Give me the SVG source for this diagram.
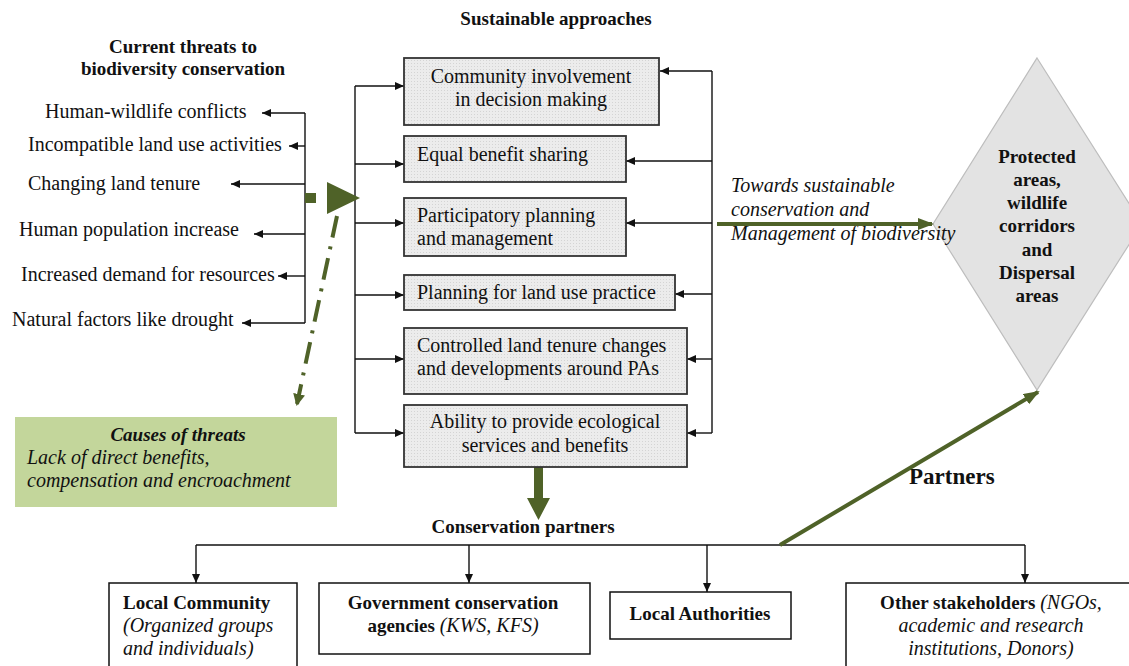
<svg xmlns="http://www.w3.org/2000/svg" width="1129" height="666" viewBox="0 0 1129 666">
<style>
.t{font-family:"Liberation Serif","Times New Roman",serif;font-size:20px;fill:#111}
.b{font-weight:bold;font-size:19px}
.i{font-style:italic}
.c{text-anchor:middle}
.ln{stroke:#111;stroke-width:1.4;fill:none}
.box{fill:url(#dots);stroke:#333;stroke-width:1.8}
.wb{fill:#fff;stroke:#111;stroke-width:1.5}
.g{stroke:#4f6228;fill:none}
.gf{fill:#4f6228}
</style>
<defs>
<pattern id="dots" width="3" height="3" patternUnits="userSpaceOnUse">
<rect width="3" height="3" fill="#ececec"/>
<rect width="1" height="1" fill="#d4d4d4"/>
</pattern>
<marker id="ah" markerUnits="userSpaceOnUse" markerWidth="9" markerHeight="8" refX="9" refY="4" orient="auto">
<path d="M0,0 L9,4 L0,8 z" fill="#111"/>
</marker>
<marker id="gh" markerUnits="userSpaceOnUse" markerWidth="16" markerHeight="12" refX="14" refY="6" orient="auto">
<path d="M0,0 L16,6 L0,12 z" fill="#4f6228"/>
</marker>
<marker id="gh2" markerUnits="userSpaceOnUse" markerWidth="12" markerHeight="12" refX="10" refY="6" orient="auto">
<path d="M0,0 L12,6 L0,12 z" fill="#4f6228"/>
</marker>
</defs>
<rect width="1129" height="666" fill="#fff"/>

<g id="titles">
<text class="t b c" x="556" y="25">Sustainable approaches</text>
<text class="t b c" x="183" y="53">Current threats to</text>
<text class="t b c" x="183" y="75">biodiversity conservation</text>
<text class="t b c" x="523" y="533">Conservation partners</text>
<text class="t b" x="909" y="484" style="font-size:23px">Partners</text>
</g>

<g id="threats">
<text class="t" x="45" y="118">Human-wildlife conflicts</text>
<text class="t" x="28" y="151">Incompatible land use activities</text>
<text class="t" x="28" y="190">Changing land tenure</text>
<text class="t" x="19" y="236">Human population increase</text>
<text class="t" x="21" y="281">Increased demand for resources</text>
<text class="t" x="12" y="326">Natural factors like drought</text>
</g>

<g id="protected">
<polygon points="1037,58 1142,224 1037,390 933,224" fill="#e3e3e3" stroke="#bdbdbd" stroke-width="1.2"/>
<text class="t b c" x="1037" y="163">Protected</text>
<text class="t b c" x="1037" y="186">areas,</text>
<text class="t b c" x="1037" y="209">wildlife</text>
<text class="t b c" x="1037" y="232">corridors</text>
<text class="t b c" x="1037" y="256">and</text>
<text class="t b c" x="1037" y="279">Dispersal</text>
<text class="t b c" x="1037" y="302">areas</text>
</g>

<g id="connectors">
<line class="ln" x1="305" y1="113" x2="305" y2="323"/>
<line class="ln" x1="305" y1="113" x2="262" y2="113" marker-end="url(#ah)"/>
<line class="ln" x1="305" y1="146" x2="289" y2="146" marker-end="url(#ah)"/>
<line class="ln" x1="305" y1="184" x2="231" y2="184" marker-end="url(#ah)"/>
<line class="ln" x1="305" y1="234" x2="254" y2="234" marker-end="url(#ah)"/>
<line class="ln" x1="305" y1="276" x2="278" y2="276" marker-end="url(#ah)"/>
<line class="ln" x1="305" y1="323" x2="242" y2="323" marker-end="url(#ah)"/>

<line class="ln" x1="355" y1="86" x2="355" y2="433"/>
<line class="ln" x1="355" y1="86" x2="404" y2="86" marker-end="url(#ah)"/>
<line class="ln" x1="355" y1="164" x2="404" y2="164" marker-end="url(#ah)"/>
<line class="ln" x1="355" y1="223" x2="404" y2="223" marker-end="url(#ah)"/>
<line class="ln" x1="355" y1="295" x2="404" y2="295" marker-end="url(#ah)"/>
<line class="ln" x1="355" y1="359" x2="404" y2="359" marker-end="url(#ah)"/>
<line class="ln" x1="355" y1="433" x2="404" y2="433" marker-end="url(#ah)"/>

<line class="ln" x1="712" y1="71" x2="712" y2="433"/>
<line class="ln" x1="712" y1="71" x2="660" y2="71" marker-end="url(#ah)"/>
<line class="ln" x1="712" y1="161" x2="626" y2="161" marker-end="url(#ah)"/>
<line class="ln" x1="712" y1="223" x2="626" y2="223" marker-end="url(#ah)"/>
<line class="ln" x1="712" y1="294" x2="675" y2="294" marker-end="url(#ah)"/>
<line class="ln" x1="712" y1="359" x2="687" y2="359" marker-end="url(#ah)"/>
<line class="ln" x1="712" y1="433" x2="687" y2="433" marker-end="url(#ah)"/>

<line class="ln" x1="196" y1="545" x2="1025" y2="545"/>
<line class="ln" x1="196" y1="545" x2="196" y2="583" marker-end="url(#ah)"/>
<line class="ln" x1="469" y1="545" x2="469" y2="583" marker-end="url(#ah)"/>
<line class="ln" x1="707" y1="545" x2="707" y2="592" marker-end="url(#ah)"/>
<line class="ln" x1="1025" y1="545" x2="1025" y2="583" marker-end="url(#ah)"/>

<rect class="gf" x="305" y="193" width="11" height="10"/>
<polygon class="gf" points="327,182 360,198 327,214"/>
<line class="g" x1="337" y1="216" x2="297" y2="404" stroke-width="4" stroke-dasharray="22,9,3,9" marker-end="url(#gh2)"/>
<path class="gf" d="M534,467 H543 V498 H550 L538.5,520 L527,498 H534 Z"/>
<line class="g" x1="780" y1="545" x2="1038" y2="392" stroke-width="4" marker-end="url(#gh)"/>
</g>

<g id="approach1">
<rect class="box" x="404" y="58" width="255" height="67"/>
<text class="t c" x="531" y="83">Community involvement</text>
<text class="t c" x="531" y="106">in decision making</text>
</g>
<g id="approach2">
<rect class="box" x="404" y="136" width="222" height="46"/>
<text class="t" x="417" y="161">Equal benefit sharing</text>
</g>
<g id="approach3">
<rect class="box" x="404" y="198" width="222" height="58"/>
<text class="t" x="417" y="222">Participatory planning</text>
<text class="t" x="417" y="245">and management</text>
</g>
<g id="approach4">
<rect class="box" x="404" y="275" width="271" height="35"/>
<text class="t" x="417" y="299">Planning for land use practice</text>
</g>
<g id="approach5">
<rect class="box" x="404" y="328" width="283" height="66"/>
<text class="t" x="417" y="352">Controlled land tenure changes</text>
<text class="t" x="417" y="375">and developments around PAs</text>
</g>
<g id="approach6">
<rect class="box" x="404" y="405" width="283" height="62"/>
<text class="t c" x="545" y="428">Ability to provide ecological</text>
<text class="t c" x="545" y="452">services and benefits</text>
</g>

<g id="causes">
<rect x="15" y="417" width="322" height="90" fill="#c3d69b"/>
<text class="t b i c" x="178" y="441">Causes of threats</text>
<text class="t i" x="27" y="464">Lack of direct benefits,</text>
<text class="t i" x="27" y="487">compensation and encroachment</text>
</g>

<g id="towards">
<text class="t i" x="731" y="192">Towards sustainable</text>
<text class="t i" x="731" y="216">conservation and</text>
<text class="t i" x="731" y="240">Management of biodiversity</text>
<line class="g" x1="717" y1="224" x2="932" y2="224" stroke-width="4" marker-end="url(#gh)"/>
</g>

<g id="local-community">
<rect class="wb" x="109" y="583" width="188" height="90"/>
<text class="t b" x="123" y="609">Local Community</text>
<text class="t i" x="123" y="632">(Organized groups</text>
<text class="t i" x="123" y="655">and individuals)</text>
</g>
<g id="government">
<rect class="wb" x="319" y="583" width="271" height="71"/>
<text class="t b c" x="453" y="609">Government conservation</text>
<text class="t c" x="453" y="632"><tspan class="b">agencies </tspan><tspan class="i">(KWS, KFS)</tspan></text>
</g>
<g id="local-authorities">
<rect class="wb" x="610" y="592" width="181" height="47"/>
<text class="t b c" x="700" y="620">Local Authorities</text>
</g>
<g id="other">
<rect class="wb" x="846" y="583" width="300" height="90"/>
<text class="t c" x="991" y="609"><tspan class="b">Other stakeholders </tspan><tspan class="i">(NGOs,</tspan></text>
<text class="t i c" x="991" y="632">academic and research</text>
<text class="t i c" x="991" y="655">institutions,  Donors)</text>
</g>
</svg>
